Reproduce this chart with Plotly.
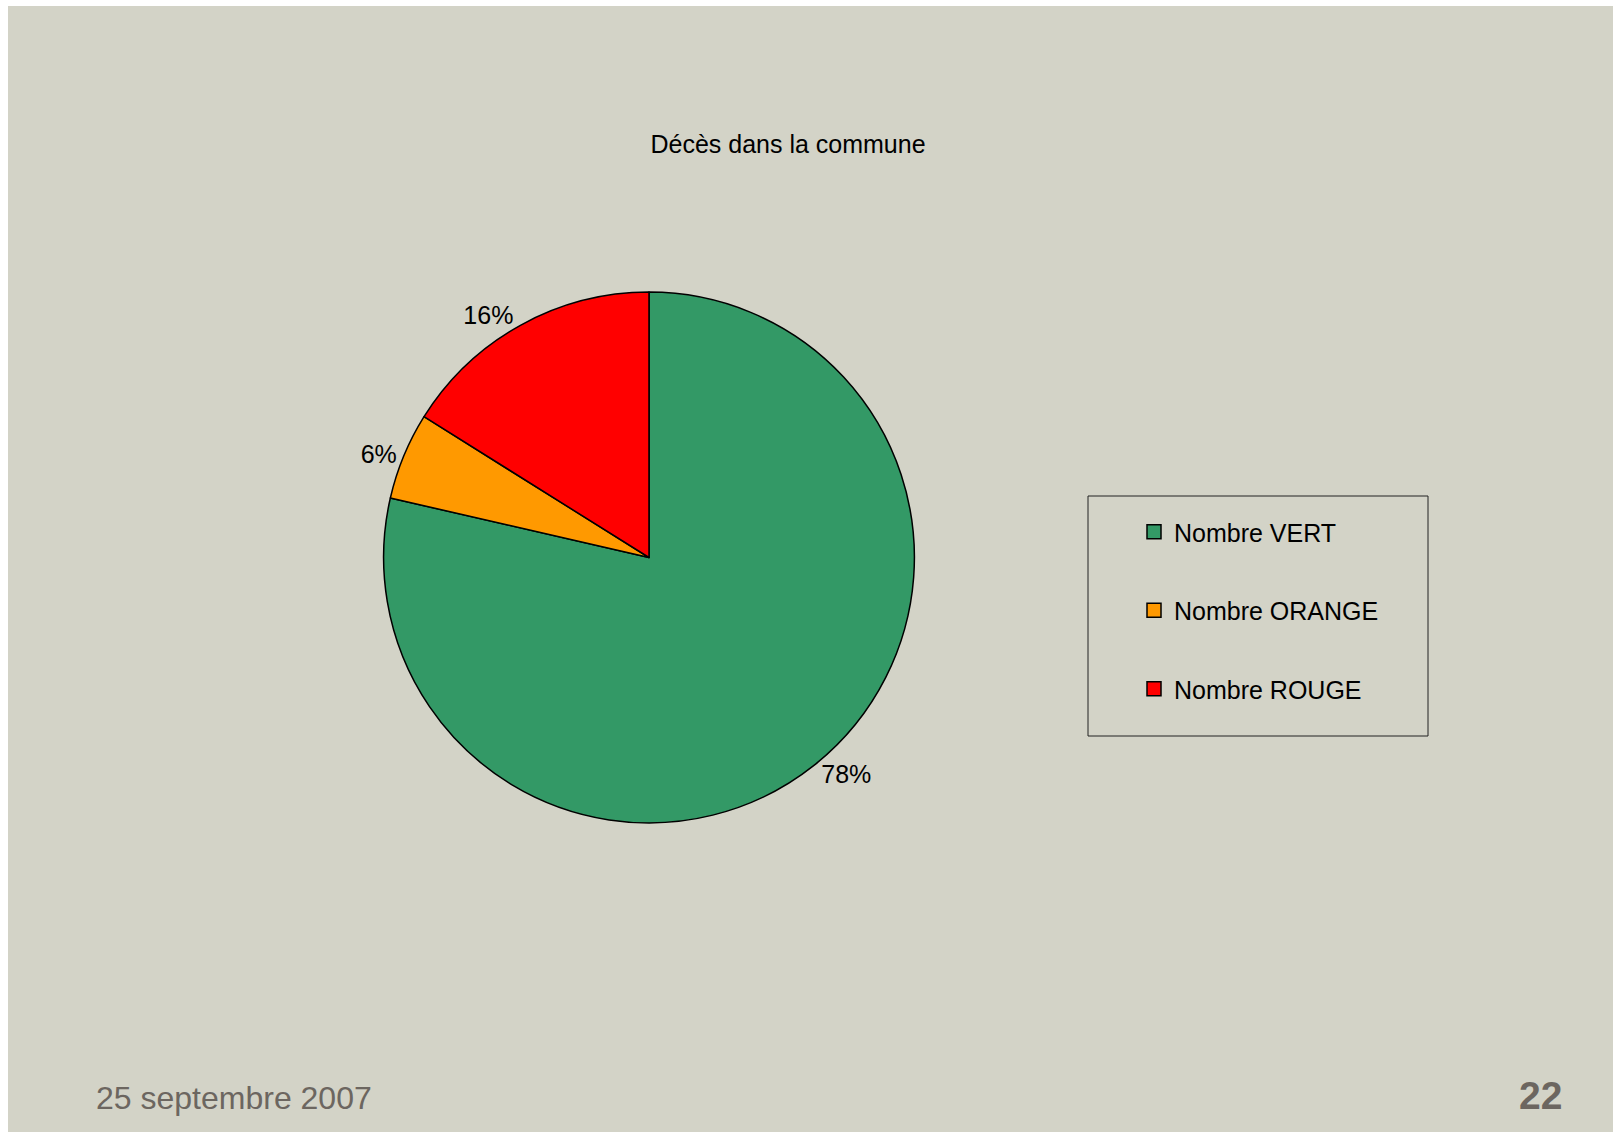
import plotly.graph_objects as go

# ---- data ----
categories = ["Nombre VERT", "Nombre ORANGE", "Nombre ROUGE"]
values = [78.6, 5.3, 16.1]
label_text = ["78%", "6%", "16%"]
colors = ["#339966", "#FF9900", "#FF0000"]
title_text = "Décès dans la commune"
footer_date = "25 septembre 2007"
page_number = "22"

W, H = 1613, 1132
BG = "rgb(211,211,199)"
FONT = "Liberation Sans, Arial, sans-serif"
FOOT_COLOR = "rgb(108,102,96)"


def px(x):
    return x / W


def py(y):
    return 1 - y / H


cx, cy, r = 649, 557.5, 265.4

fig = go.Figure()

fig.add_trace(go.Pie(
    labels=categories,
    values=values,
    text=label_text,
    textinfo="text",
    textposition="outside",
    textfont=dict(family=FONT, size=25, color="black"),
    marker=dict(colors=colors, line=dict(color="black", width=1.5)),
    sort=False,
    direction="clockwise",
    rotation=0,
    showlegend=False,
    hoverinfo="label+value",
    domain=dict(x=[px(cx - r), px(cx + r)], y=[py(cy + r), py(cy - r)]),
))

# legend entries (one per category)
for i, (name, col) in enumerate(zip(categories, colors)):
    fig.add_trace(go.Scatter(
        x=[None], y=[None], mode="markers", name=name,
        legendgroup=f"g{i}",
        marker=dict(symbol="square", size=14, color=col,
                    line=dict(color="black", width=1.5)),
    ))

fig.update_layout(
    width=W, height=H,
    margin=dict(l=0, r=0, t=0, b=0),
    paper_bgcolor=BG,
    plot_bgcolor=BG,
    xaxis=dict(visible=False),
    yaxis=dict(visible=False),
    title=dict(text=title_text, x=px(788), y=py(144), xanchor="center",
               yanchor="middle", font=dict(family=FONT, size=25, color="black")),
    legend=dict(
        x=px(1134), y=py(509), xanchor="left", yanchor="top",
        bgcolor="rgba(0,0,0,0)", borderwidth=0,
        font=dict(family=FONT, size=25, color="black"),
        tracegroupgap=43,
    ),
    shapes=[
        dict(type="rect", xref="paper", yref="paper", x0=0, x1=1, y0=py(6), y1=1.01,
             fillcolor="white", line=dict(width=0), layer="below"),
        dict(type="rect", xref="paper", yref="paper", x0=-0.01, x1=px(8), y0=-0.01, y1=1.01,
             fillcolor="white", line=dict(width=0), layer="below"),
        dict(type="rect", xref="paper", yref="paper", x0=px(1088), x1=px(1428),
             y0=py(736), y1=py(496), line=dict(color="#222222", width=1),
             fillcolor="rgba(0,0,0,0)", layer="below"),
    ],
    annotations=[
        dict(text=footer_date, x=px(94), y=py(1098), xref="paper", yref="paper",
             xanchor="left", yanchor="middle", showarrow=False,
             font=dict(family=FONT, size=32, color=FOOT_COLOR)),
        dict(text="<b>" + page_number + "</b>", x=px(1564), y=py(1095), xref="paper",
             yref="paper", xanchor="right", yanchor="middle", showarrow=False,
             font=dict(family=FONT, size=39, color=FOOT_COLOR)),
    ],
)

fig.write_html("out.html")
